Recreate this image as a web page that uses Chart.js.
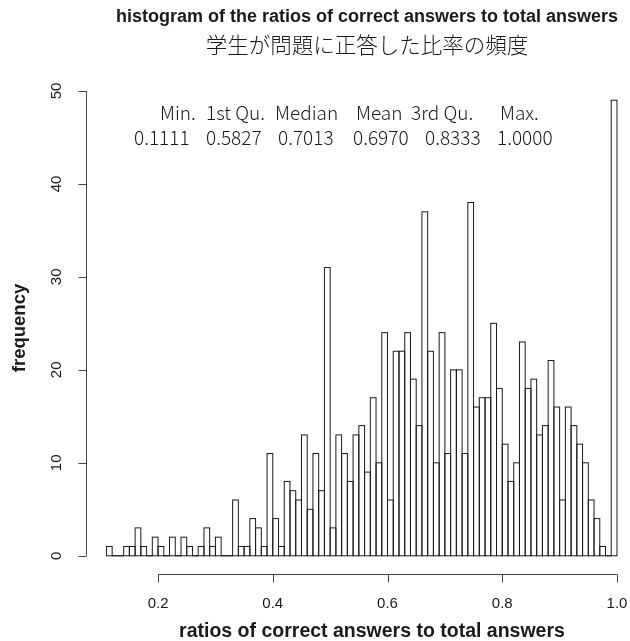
<!DOCTYPE html>
<html>
<head>
<meta charset="utf-8">
<script src="https://cdn.jsdelivr.net/npm/chart.js@4.4.0/dist/chart.umd.min.js"></script>
<style>
  html, body { margin: 0; padding: 0; background: #ffffff; }
  #wrap { width: 630px; height: 641px; position: relative; }
  canvas { display: block; }
</style>
</head>
<body>
<div id="wrap"><canvas id="hist" width="630" height="641"></canvas></div>
<script>
// Bin edges of the histogram (ratio of correct answers to total answers)
const breaks = [
  0.11, 0.12, 0.13, 0.14, 0.15, 0.16, 0.17, 0.18, 0.19, 0.20,
  0.21, 0.22, 0.23, 0.24, 0.25, 0.26, 0.27, 0.28, 0.29, 0.30,
  0.31, 0.32, 0.33, 0.34, 0.35, 0.36, 0.37, 0.38, 0.39, 0.40,
  0.41, 0.42, 0.43, 0.44, 0.45, 0.46, 0.47, 0.48, 0.49, 0.50,
  0.51, 0.52, 0.53, 0.54, 0.55, 0.56, 0.57, 0.58, 0.59, 0.60,
  0.61, 0.62, 0.63, 0.64, 0.65, 0.66, 0.67, 0.68, 0.69, 0.70,
  0.71, 0.72, 0.73, 0.74, 0.75, 0.76, 0.77, 0.78, 0.79, 0.80,
  0.81, 0.82, 0.83, 0.84, 0.85, 0.86, 0.87, 0.88, 0.89, 0.90,
  0.91, 0.92, 0.93, 0.94, 0.95, 0.96, 0.97, 0.98, 0.99, 1.00
];

// Number of students falling in each bin
const counts = [
  1, 0, 0, 1, 1, 3, 1, 0, 2, 1,
  0, 2, 0, 2, 1, 0, 1, 3, 1, 2,
  0, 0, 6, 1, 1, 4, 3, 1, 11, 4,
  1, 8, 7, 6, 13, 5, 11, 7, 31, 3,
  13, 11, 8, 13, 14, 9, 17, 10, 24, 6,
  22, 22, 24, 19, 14, 37, 22, 10, 24, 11,
  20, 20, 11, 38, 16, 17, 17, 25, 18, 12,
  8, 10, 23, 18, 19, 13, 14, 21, 16, 6,
  16, 14, 12, 10, 6, 4, 1, 0, 49
];

// Axis tick values
const xTicks = [0.2, 0.4, 0.6, 0.8, 1.0];
const xTickLabels = ['0.2', '0.4', '0.6', '0.8', '1.0'];
const yTicks = [0, 10, 20, 30, 40, 50];
const yTickLabels = ['0', '10', '20', '30', '40', '50'];

// Five-number summary printed inside the plot
const summaryNames = ['Min.', '1st Qu.', 'Median', 'Mean', '3rd Qu.', 'Max.'];
const summaryValues = ['0.1111', '0.5827', '0.7013', '0.6970', '0.8333', '1.0000'];

const titleText = 'histogram of the ratios of correct answers to total answers';
const subtitleText = '学生が問題に正答した比率の頻度';
const xTitle = 'ratios of correct answers to total answers';
const yTitle = 'frequency';

// Axis limits: data range padded by 4%
const xMin = 0.0744, xMax = 1.0192;
const yMin = -1.96, yMax = 50.96;

const points = counts.map((c, i) => ({ x: (breaks[i] + breaks[i + 1]) / 2, y: c }));

const SANS = '"Liberation Sans", Arial, sans-serif';
const JP = '"Noto Sans CJK JP", "Noto Sans", sans-serif';

// Outlines each bar (shared edges stay one pixel), then draws the axes and texts
const decorations = {
  id: 'decorations',
  afterDatasetsDraw(chart) {
    const ctx = chart.ctx;
    const meta = chart.getDatasetMeta(0);
    ctx.save();
    ctx.strokeStyle = '#1a1a1a';
    ctx.lineWidth = 1;
    meta.data.forEach(el => {
      const p = el.getProps(['x', 'y', 'base', 'width'], true);
      ctx.strokeRect(p.x - p.width / 2, p.y, p.width, p.base - p.y);
    });
    ctx.restore();
  },
  afterDraw(chart) {
    const ctx = chart.ctx;
    const xs = chart.scales.x, ys = chart.scales.y;
    const area = chart.chartArea;
    ctx.save();
    ctx.strokeStyle = '#444';
    ctx.lineWidth = 1;
    ctx.fillStyle = '#1a1a1a';

    // x axis
    const ax = area.bottom + 0.5;
    ctx.beginPath();
    ctx.moveTo(xs.getPixelForValue(xTicks[0]), ax);
    ctx.lineTo(xs.getPixelForValue(xTicks[xTicks.length - 1]), ax);
    xTicks.forEach(v => {
      const px = Math.round(xs.getPixelForValue(v)) + 0.5;
      ctx.moveTo(px, ax);
      ctx.lineTo(px, ax + 8);
    });
    ctx.stroke();
    ctx.font = '15px ' + SANS;
    ctx.textAlign = 'center';
    ctx.textBaseline = 'middle';
    xTicks.forEach((v, i) => ctx.fillText(xTickLabels[i], xs.getPixelForValue(v), 604));

    // y axis
    const ay = area.left + 0.5;
    ctx.beginPath();
    ctx.moveTo(ay, ys.getPixelForValue(yTicks[0]));
    ctx.lineTo(ay, ys.getPixelForValue(yTicks[yTicks.length - 1]));
    yTicks.forEach(v => {
      const py = Math.round(ys.getPixelForValue(v)) + 0.5;
      ctx.moveTo(ay, py);
      ctx.lineTo(ay - 8, py);
    });
    ctx.stroke();
    yTicks.forEach((v, i) => {
      ctx.save();
      ctx.translate(57, ys.getPixelForValue(v));
      ctx.rotate(-Math.PI / 2);
      ctx.fillText(yTickLabels[i], 0, 0);
      ctx.restore();
    });

    // axis titles
    ctx.font = 'bold 19.5px ' + SANS;
    ctx.fillText(xTitle, 372, 632);
    ctx.font = 'bold 18.5px ' + SANS;
    ctx.save();
    ctx.translate(20, (area.top + area.bottom) / 2);
    ctx.rotate(-Math.PI / 2);
    ctx.fillText(yTitle, 0, 0);
    ctx.restore();

    // main title and subtitle
    ctx.font = 'bold 18px ' + SANS;
    ctx.fillText(titleText, 367, 17);
    ctx.font = '300 21.5px ' + JP;
    ctx.fillText(subtitleText, 367, 45);

    // summary table
    ctx.font = '300 19px ' + JP;
    ctx.textAlign = 'left';
    const nameX = [160, 206, 275, 356, 411, 500];
    const valueX = [134, 206, 278, 353, 425, 497];
    summaryNames.forEach((s, i) => ctx.fillText(s, nameX[i], 113));
    summaryValues.forEach((s, i) => ctx.fillText(s, valueX[i], 138));
    ctx.restore();
  }
};

new Chart(document.getElementById('hist'), {
  type: 'bar',
  data: {
    datasets: [{
      data: points,
      backgroundColor: '#ffffff',
      borderWidth: 0,
      barPercentage: 1,
      categoryPercentage: 1
    }]
  },
  options: {
    responsive: false,
    animation: false,
    devicePixelRatio: 1,
    layout: { padding: { left: 86, right: 2, top: 82, bottom: 67 } },
    scales: {
      x: { type: 'linear', offset: false, min: xMin, max: xMax, display: false },
      y: { type: 'linear', min: yMin, max: yMax, display: false }
    },
    plugins: {
      legend: { display: false },
      tooltip: { enabled: false },
      title: { display: false }
    }
  },
  plugins: [decorations]
});
</script>
</body>
</html>
